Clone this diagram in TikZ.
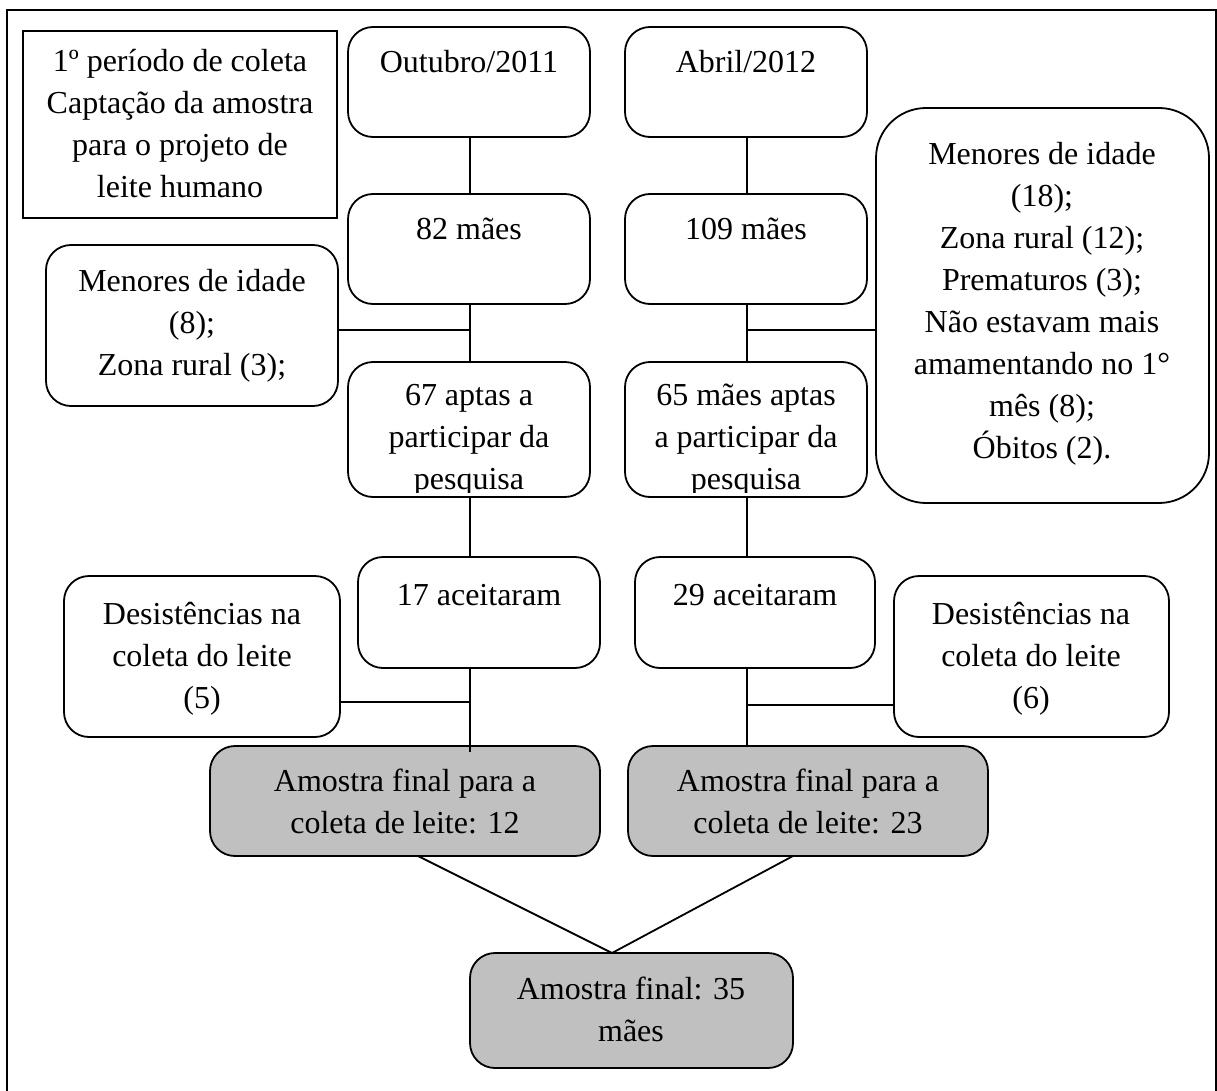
\documentclass[tikz,border=0pt]{standalone}
\usepackage{fontspec}
\setmainfont{Liberation Serif}
\definecolor{boxgray}{HTML}{C0C0C0}
\begin{document}
\begin{tikzpicture}[x=1pt,y=-1pt,
  box/.style={draw, line width=1.8pt, rounded corners=25pt, inner sep=0pt, outer sep=0pt, anchor=north west, fill=white},
  greybox/.style={box, fill=boxgray},
  txt/.style={font=\fontsize{32}{42}\selectfont, align=center, inner sep=0pt, anchor=base},
  conn/.style={line width=1.8pt}]
\useasboundingbox (0,0) rectangle (1217,1091);
% outer frame (open at the bottom, cut by the page)
\draw[line width=2.2pt] (7,1091) -- (7,10) -- (1216,10) -- (1216,1091);

% boxes
\node[box, sharp corners, minimum width=314pt, minimum height=187pt] (title) at (23,31) {};
\node[box, minimum width=242pt, minimum height=110pt] (out) at (348,27) {};
\node[box, minimum width=242pt, minimum height=110pt] (abr) at (625,27) {};
\node[box, minimum width=242pt, minimum height=110pt] (b82) at (348,194) {};
\node[box, minimum width=242pt, minimum height=110pt] (b109) at (625,194) {};
\node[box, minimum width=242pt, minimum height=135pt] (b67) at (348,362) {};
\node[box, minimum width=242pt, minimum height=135pt] (b65) at (625,362) {};
\node[box, minimum width=292pt, minimum height=161pt] (menL) at (46,245) {};
\node[box, rounded corners=50pt, minimum width=333pt, minimum height=395pt] (menR) at (876,108) {};
\node[box, minimum width=242pt, minimum height=111pt] (a17) at (358,557) {};
\node[box, minimum width=240pt, minimum height=111pt] (a29) at (635,557) {};
\node[box, minimum width=276pt, minimum height=161pt] (desL) at (64,576) {};
\node[box, minimum width=275pt, minimum height=161pt] (desR) at (894,576) {};
\node[greybox, minimum width=390pt, minimum height=110pt] (amL) at (210,746) {};
\node[greybox, minimum width=360pt, minimum height=110pt] (amR) at (628,746) {};
\node[greybox, minimum width=323pt, minimum height=115pt] (fin) at (470,953) {};

% texts (anchor = baseline of the last line)
\node[txt] (ttitle) at (180,198) {1º período de coleta\\Captação da amostra\\para o projeto de\\leite humano};
\node[txt] (tout) at (469,73) {Outubro/2011};
\node[txt] (tabr) at (746,73) {Abril/2012};
\node[txt] (t82) at (469,240) {82 mães};
\node[txt] (t109) at (746,240) {109 mães};
\begin{scope}
  \clip (348,362) rectangle (867,492);
  \node[txt] (t67) at (469,489) {67 aptas a\\participar da\\pesquisa};
  \node[txt] (t65) at (746,489) {65 mães aptas\\a participar da\\pesquisa};
\end{scope}
\node[txt] (tmenL) at (192,375) {Menores de idade\\(8);\\Zona rural (3);};
\node[txt] (tmenR) at (1042,458) {Menores de idade\\(18);\\Zona rural (12);\\Prematuros (3);\\Não estavam mais\\amamentando no 1°\\mês (8);\\Óbitos (2).};
\node[txt] (t17) at (479,605) {17 aceitaram};
\node[txt] (t29) at (755,605) {29 aceitaram};
\node[txt] (tdesL) at (202,708) {Desistências na\\coleta do leite\\(5)};
\node[txt] (tdesR) at (1031,708) {Desistências na\\coleta do leite\\(6)};
\node[txt] (tamL) at (405,833) {Amostra final para a\\coleta de leite: 12};
\node[txt] (tamR) at (808,833) {Amostra final para a\\coleta de leite: 23};
\node[txt] (tfin) at (631,1041) {Amostra final: 35\\mães};

% junction points
\coordinate (jL) at (470,330);
\coordinate (jR) at (747,330);
\coordinate (jL2) at (470,702);
\coordinate (jR2) at (747,705);
\coordinate (apex) at (612,953);

% connectors
\draw[conn] (out.south -| jL) -- (b82.north -| jL);
\draw[conn] (abr.south -| jR) -- (b109.north -| jR);
\draw[conn] (b82.south -| jL) -- (b67.north -| jL);
\draw[conn] (b109.south -| jR) -- (b65.north -| jR);
\draw[conn] (jL) -- (jL -| menL.east);
\draw[conn] (jR) -- (jR -| menR.west);
\draw[conn] (b67.south -| jL) -- (a17.north -| jL);
\draw[conn] (b65.south -| jR) -- (a29.north -| jR);
\draw[conn] (a17.south -| jL2) -- ([yshift=-6pt]amL.north -| jL2);
\draw[conn] (a29.south -| jR2) -- (amR.north -| jR2);
\draw[conn] (jL2) -- (jL2 -| desL.east);
\draw[conn] (jR2) -- (jR2 -| desR.west);
\draw[conn] ([xshift=13pt]amL.south) -- (apex);
\draw[conn] ([xshift=-15pt]amR.south) -- (apex);
\end{tikzpicture}
\end{document}
